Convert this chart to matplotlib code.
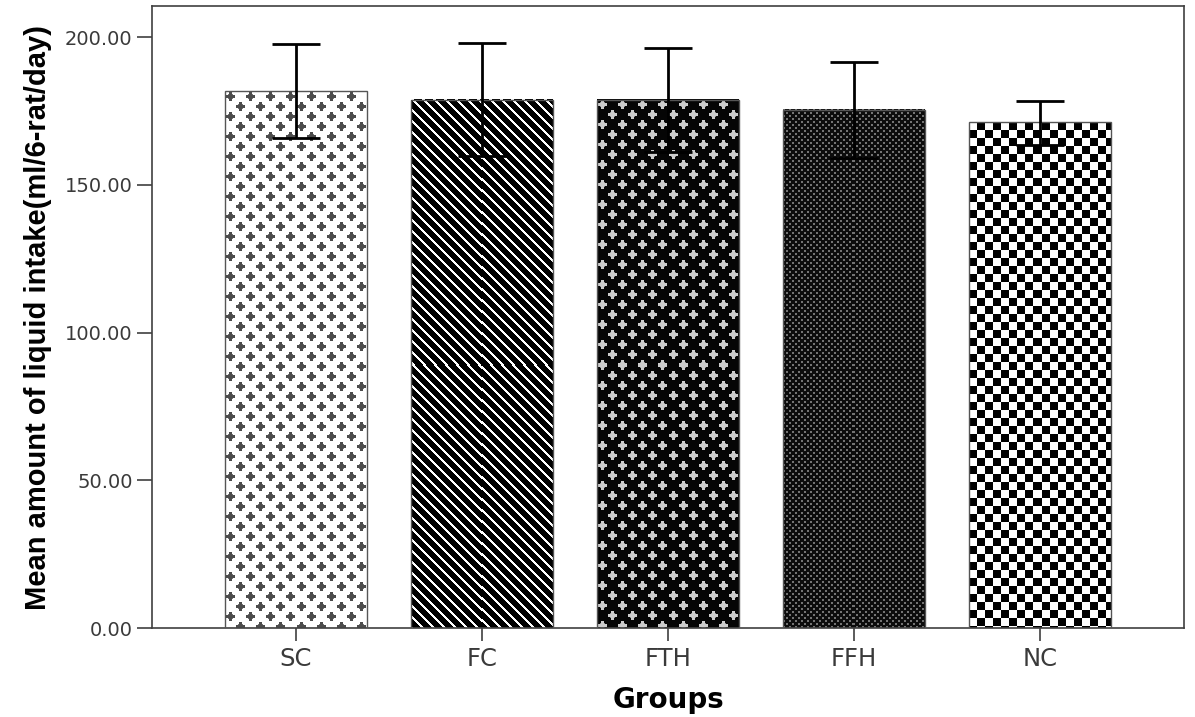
import matplotlib.pyplot as plt
import numpy as np

# values
groups = ['SC', 'FC', 'FTH', 'FFH', 'NC']
means = [181.6, 178.8, 178.8, 175.4, 171.2]
err_high = [197.8, 197.9, 196.3, 191.7, 178.5]
err_low = [165.8, 159.6, 161.0, 158.9, 163.6]
yticks = [0, 50, 100, 150, 200]
fills = ['plus_light', 'stripes', 'plus_dark', 'dots', 'checker']


def texture(kind, h, w):
    # grey level fill pattern, one array pixel per figure pixel
    yy, xx = np.indices((h, w))
    img = np.ones((h, w))
    if kind in ('plus_light', 'plus_dark'):
        u = xx % 20
        v = yy % 20
        mask = np.zeros((h, w), bool)
        halo = np.zeros((h, w), bool)
        for cx, cy in [(5, 5), (15, 15)]:
            dx = np.abs(u - cx)
            dy = np.abs(v - cy)
            mask |= ((dx <= 4) & (dy <= 1)) | ((dy <= 4) & (dx <= 1))
            halo |= (dx <= 2) & (dy <= 2)
        if kind == 'plus_light':
            img[:] = 1.0
            img[halo] = 0.45
            img[mask] = 0.3
        else:
            img[:] = 0.02
            img[halo] = 0.55
            img[mask] = 0.8
    elif kind == 'stripes':
        img[:] = 0.0
        img[((xx - yy) % 11) < 3] = 1.0
    elif kind == 'dots':
        img[:] = 0.05
        d = ((xx % 6 < 2) & (yy % 6 < 2)) | (((xx + 3) % 6 < 2) & ((yy + 3) % 6 < 2))
        img[d] = 0.45
    elif kind == 'checker':
        img[:] = 0.0
        img[((xx // 8) + (yy // 8)) % 2 == 0] = 1.0
    return img


fig = plt.figure(figsize=(11.95, 7.17), dpi=100)
ax = fig.add_axes([0.1272, 0.1241, 0.8636, 0.8675])

x = np.arange(len(groups))
bar_w = 0.76
ax.set_xlim(-0.774, len(groups) - 1 + 0.774)
ax.set_ylim(0, 210.5)

# patterned fills
for i, (m, kind) in enumerate(zip(means, fills)):
    p0 = ax.transData.transform((x[i] - bar_w / 2, 0))
    p1 = ax.transData.transform((x[i] + bar_w / 2, m))
    wpx = int(round(p1[0] - p0[0]))
    hpx = int(round(p1[1] - p0[1]))
    ax.imshow(texture(kind, hpx, wpx), cmap='gray', vmin=0, vmax=1,
              extent=(x[i] - bar_w / 2, x[i] + bar_w / 2, 0, m),
              aspect='auto', interpolation='nearest', zorder=2)

ax.bar(x, means, width=bar_w, facecolor='none', edgecolor='#555555',
       linewidth=1.0, zorder=3)

yerr = [np.array(means) - np.array(err_low), np.array(err_high) - np.array(means)]
ax.errorbar(x, means, yerr=yerr, fmt='none', ecolor='black', elinewidth=2,
            capsize=17, capthick=2, zorder=5)

ax.set_xlim(-0.774, len(groups) - 1 + 0.774)
ax.set_ylim(0, 210.5)

ax.set_xticks(x)
ax.set_xticklabels(groups)
ax.set_yticks(yticks)
ax.set_yticklabels(['%.2f' % t for t in yticks])

for s in ax.spines.values():
    s.set_color('#404040')
    s.set_linewidth(1.2)

ax.tick_params(axis='y', length=11, width=1.2, color='#404040', labelsize=14,
               labelcolor='#3a3a3a', pad=3)
ax.tick_params(axis='x', length=9, width=1.2, color='#404040', labelsize=17.5,
               labelcolor='#3a3a3a', pad=5)

ax.set_ylabel('Mean amount of liquid intake(ml/6-rat/day)', fontsize=21,
              fontweight='bold', family='Liberation Sans')
ax.yaxis.set_label_coords(-0.097, 0.5)
ax.set_xlabel('Groups', fontsize=20, fontweight='bold', family='DejaVu Sans')
ax.xaxis.set_label_coords(0.5, -0.093)

plt.savefig('out.png', dpi=100)
